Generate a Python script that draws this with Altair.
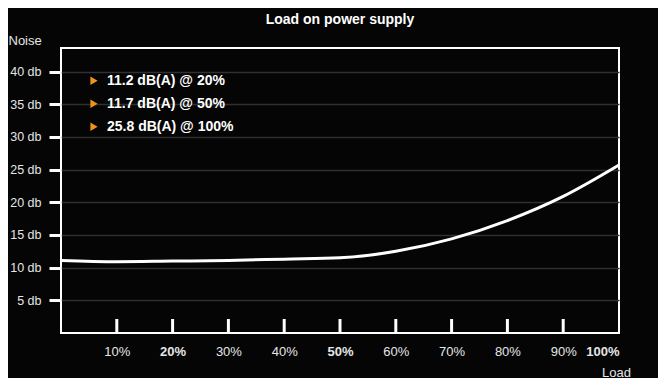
import altair as alt
import pandas as pd

# ---- data ----
load_pct = [0, 10, 20, 30, 40, 50, 60, 70, 80, 90, 100]
noise_db = [11.1, 10.9, 11.0, 11.1, 11.3, 11.5, 12.5, 14.4, 17.2, 20.9, 25.7]

x_tick_values = [10, 20, 30, 40, 50, 60, 70, 80, 90, 100]
inner_tick_values = [10, 20, 30, 40, 50, 60, 70, 80, 90]
y_tick_values = [5, 10, 15, 20, 25, 30, 35, 40]
bold_x_labels = [20, 50, 100]

annotation_labels = ["11.2 dB(A) @ 20%", "11.7 dB(A) @ 50%", "25.8 dB(A) @ 100%"]

FONT = "Liberation Sans"
W, H = 558, 285

curve_df = pd.DataFrame({"load": load_pct, "noise": noise_db})
ticks_df = pd.DataFrame({"t": inner_tick_values})
ann_df = pd.DataFrame({"row": list(range(len(annotation_labels))), "label": annotation_labels})

bold_expr = "indexof([" + ",".join(str(v) for v in bold_x_labels) + "], datum.value) >= 0 ? 'bold' : 'normal'"

x_scale = alt.Scale(domain=[0, 100], nice=False, zero=False)
y_scale = alt.Scale(domain=[0, 43.6], nice=False)

line = alt.Chart(curve_df).mark_line(
    color="white", strokeWidth=3, interpolate="monotone"
).encode(
    x=alt.X("load:Q", scale=x_scale,
            axis=alt.Axis(values=x_tick_values, labelExpr="datum.value + '%'",
                          ticks=False, domain=False, grid=False,
                          labelPadding=12, labelFontSize=13, labelFont=FONT,
                          labelColor="#e6e6e6", labelFontWeight={"expr": bold_expr},
                          title="Load", titleFont=FONT, titleFontSize=13,
                          titleFontWeight="normal", titleColor="#e6e6e6",
                          titleAlign="center", titleBaseline="alphabetic",
                          titleX=555, titleY=43)),
    y=alt.Y("noise:Q", scale=y_scale,
            axis=alt.Axis(values=y_tick_values, labelExpr="datum.value + ' db'",
                          ticks=True, tickSize=12, tickWidth=3, tickColor="white",
                          domain=False, grid=True, gridColor="#303030", gridWidth=1.5,
                          labelPadding=8, labelFontSize=12.5, labelFont=FONT,
                          labelColor="#e6e6e6",
                          title="Noise", titleAngle=0, titleFont=FONT, titleFontSize=13,
                          titleFontWeight="normal", titleColor="#e6e6e6",
                          titleAlign="left", titleBaseline="middle",
                          titleX=-53, titleY=-8)),
)

inner_ticks = alt.Chart(ticks_df).mark_rule(color="white", strokeWidth=3).encode(
    x=alt.X("t:Q", scale=x_scale),
    y=alt.value(H - 14),
    y2=alt.value(H),
)

ann_y = alt.Y("row:O", axis=None,
              scale=alt.Scale(type="point", range=[32.7, 78.7], padding=0))

ann_text = alt.Chart(ann_df).mark_text(
    align="left", baseline="middle", font=FONT, fontSize=14,
    fontWeight="bold", color="white"
).encode(
    x=alt.value(46),
    y=ann_y,
    text="label:N",
)

ann_tri = alt.Chart(ann_df).mark_point(
    shape="triangle-right", filled=True, color="#f0921e", size=70, opacity=1
).encode(
    x=alt.value(33),
    y=ann_y,
)

chart = alt.layer(line, inner_ticks, ann_tri, ann_text).resolve_scale(
    y="independent"
).properties(
    width=W,
    height=H,
    title=alt.TitleParams("Load on power supply", font=FONT, fontSize=14,
                          fontWeight="bold", color="white", anchor="middle",
                          offset=7),
    autosize=alt.AutoSizeParams(type="none"),
    padding={"left": 53, "top": 40, "right": 39, "bottom": 45},
).configure(
    background="#050505",
).configure_view(
    stroke="white", strokeWidth=2,
)

chart.save("out.html", embed_options={"renderer": "svg", "actions": False})
